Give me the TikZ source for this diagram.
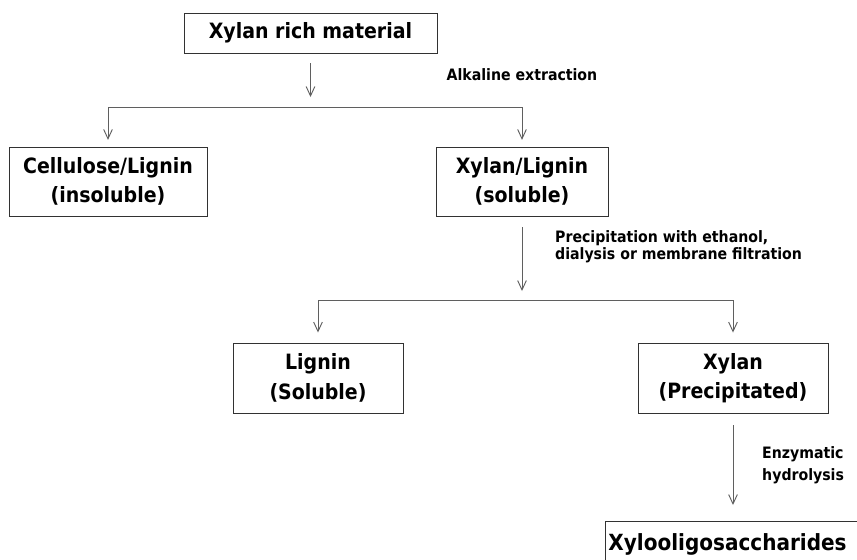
\documentclass[tikz,border=0pt]{standalone}
\usepackage{fontspec}
\setmainfont{DejaVu Sans Condensed}
\usetikzlibrary{arrows.meta, positioning}
\definecolor{linegray}{RGB}{95,95,95}
\definecolor{boxgray}{RGB}{50,50,50}

\begin{document}
\begin{tikzpicture}[
  x=0.03cm, y=-0.03cm,
  box/.style={draw=boxgray, line width=0.8pt, align=center, inner sep=0pt, font=\fontsize{18}{25}\selectfont\bfseries},
  note/.style={align=left, inner sep=0pt, font=\fontsize{13.4}{14.2}\selectfont\bfseries},
  flow/.style={draw=linegray, line width=0.8pt},
  arr/.style={flow, -{Straight Barb[length=2.8mm, width=2.6mm]}}
]
  \useasboundingbox (0,0) rectangle (857,560);

  % boxes
  \node[box, minimum width=7.59cm, minimum height=1.2cm] (raw) at (310.5,33) {Xylan rich material};
  \node[box, minimum width=5.94cm, minimum height=2.07cm] (cellulose) at (108,181.5) {Cellulose/Lignin\\(insoluble)};
  \node[box, minimum width=5.16cm, minimum height=2.07cm] (xylanlignin) at (522,181.5) {Xylan/Lignin\\(soluble)};
  \node[box, minimum width=5.1cm, minimum height=2.1cm] (lignin) at (318,378) {Lignin\\(Soluble)};
  \node[box, minimum width=5.7cm, minimum height=2.1cm] (xylan) at (733,378) {Xylan\\(Precipitated)};
  \node[box, anchor=north west, text width=7.6cm, align=left, inner xsep=0.09cm, minimum height=1.35cm,
        font=\fontsize{19}{24}\selectfont\bfseries] (xos) at (605,521) {Xylooligosaccharides};

  % step labels
  \node[note] (alkaline) at (522,75) {Alkaline extraction};
  \node[note, anchor=west] (precip) at (555,247) {Precipitation with ethanol,\\dialysis or membrane filtration};
  \node[note, anchor=west, font=\fontsize{13.4}{18.5}\selectfont\bfseries] (enzyme) at (762,465) {Enzymatic\\hydrolysis};

  % branch points
  \coordinate (split1) at (310.5,107);
  \coordinate (split2) at (522,300);

  % arrows
  \draw[arr, shorten <=0.3cm, shorten >=0.3cm] (raw.south) -- (split1);
  \draw[arr, shorten >=0.2cm] (split1) -| (cellulose.north);
  \draw[arr, shorten >=0.2cm] (split1) -| (xylanlignin.north);
  \draw[arr, shorten <=0.33cm, shorten >=0.27cm] (xylanlignin.south) -- (split2);
  \draw[arr, shorten >=0.3cm] (split2) -| (lignin.north);
  \draw[arr, shorten >=0.3cm] (split2) -| (xylan.north);
  \draw[arr, shorten <=0.36cm, shorten >=0.48cm] (xylan.south) -- (xylan.south |- xos.north);
\end{tikzpicture}
\end{document}
